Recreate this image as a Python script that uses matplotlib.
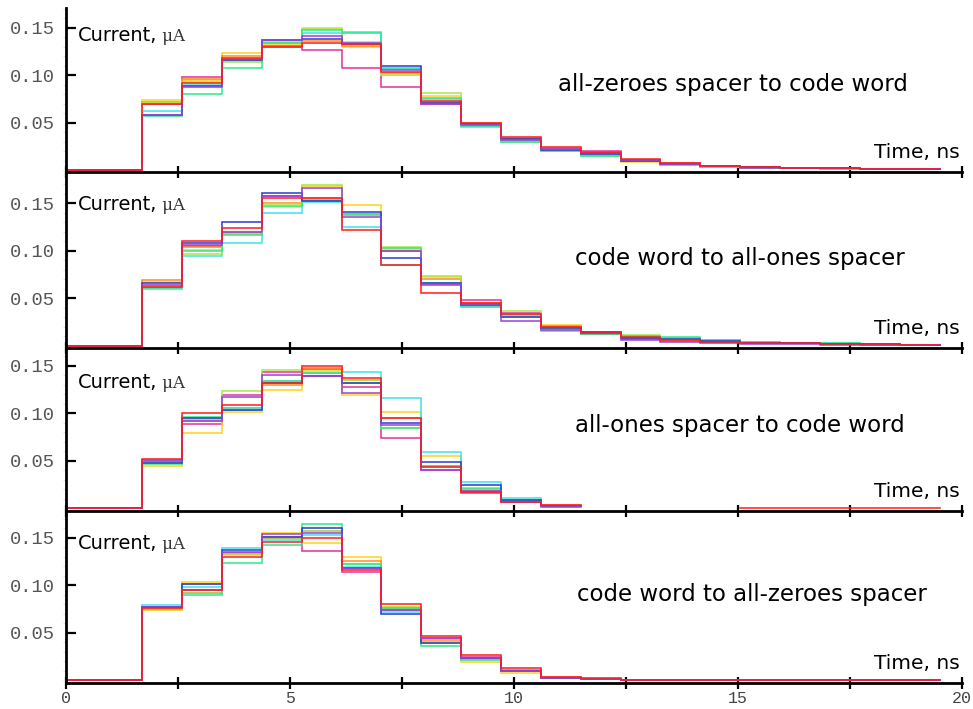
import numpy as np
import matplotlib
matplotlib.use("Agg")
import matplotlib.pyplot as plt
from matplotlib.ticker import MultipleLocator, FixedLocator, FuncFormatter

# ---- data -----------------------------------------------------------------
# time bins (ns): flat zero from 0 to the first edge, then 20 bins of 0.89 ns
t_start = 0.0
bin_edges = [1.70, 2.59, 3.48, 4.37, 5.26, 6.15, 7.04, 7.93, 8.82, 9.71, 10.60,
             11.49, 12.38, 13.27, 14.16, 15.05, 15.94, 16.83, 17.72, 18.61, 19.50]

series_names = ["red", "magenta", "gold", "orange", "cyan", "yellowgreen", "mint", "blue", "purple"]
series_colors = ["#ff1a1a", "#e0309a", "#ffd21a", "#ff8c1a", "#3fe0e8", "#a6e84a", "#2ee88a", "#2a3ad0", "#9a40d8"]

panel_titles = ["all-zeroes spacer to code word",
                "code word to all-ones spacer",
                "all-ones spacer to code word",
                "code word to all-zeroes spacer"]

nan = np.nan

# current (uA) per bin, one list per series, for each transition
zeroes_to_word = {
    "red":         [.0695, .092, .1175, .130, .134, .1326, .1035, .073, .0498, .035, .024, .018, .0113, .0077, .0040, .0030, .0025, .0020, .0015, .0008],
    "magenta":     [.0700, .098, .1160, .131, .126, .1070, .0877, .0695, .047, .033, .022, .0203, .0110, .0070, .0045, .0028, .0022, .0018, .0012, .0006],
    "gold":        [.0737, .095, .1230, .133, .150, .1300, .1000, .078, .048, .032, .021, .017, .0088, .0060, .0035, .0025, .0020, .0016, .0013, .0010],
    "orange":      [.0720, .096, .1200, .129, .136, .1310, .1020, .072, .049, .034, .023, .0175, .0110, .0075, .0040, .0030, .0024, .0019, .0014, .0009],
    "cyan":        [.0624, .090, .1150, .134, .1445, .1455, .1060, .075, .045, .031, .020, .016, .0100, .0060, .0040, .0022, .0020, .0015, .0010, .0006],
    "yellowgreen": [.0710, .093, .1140, .135, .148, .1350, .1000, .0814, .047, .030, .021, .015, .0090, .0055, .0032, .0020, .0018, .0014, .0012, .0010],
    "mint":        [.0570, .080, .1070, .1335, .147, .1440, .1070, .0755, .046, .030, .020, .0147, .0095, .0053, .0030, .0020, .0016, .0012, .0010, .0007],
    "blue":        [.0575, .088, .1155, .137, .1375, .1330, .1090, .071, .048, .033, .021, .017, .0100, .0065, .0042, .0028, .0022, .0016, .0011, .0006],
    "purple":      [.0580, .0875, .1165, .1365, .141, .1340, .1050, .070, .047, .032, .022, .019, .0105, .0068, .0038, .0025, .0021, .0017, .0013, .0008],
}

word_to_ones = {
    "red":         [.0615, .1105, .1235, .155, .156, .1218, .085, .0558, .0453, .0334, .020, .013, .0088, .0060, .0040, .0030, .0025, .0020, .0015, .0010],
    "magenta":     [.0620, .1050, .1190, .158, .1525, .1376, .100, .0640, .0480, .0340, .020, .0123, .0070, .0050, .0035, .0025, .0030, .0018, .0012, .0008],
    "gold":        [.0670, .1010, .1175, .146, .168, .1480, .1015, .0720, .0430, .0330, .0218, .014, .0090, .0065, .0045, .0035, .0028, .0022, .0018, .0012],
    "orange":      [.0690, .1040, .1200, .150, .155, .1390, .100, .0700, .0450, .0320, .021, .0135, .0085, .0065, .0045, .0030, .0026, .0022, .0016, .0010],
    "cyan":        [.0600, .0940, .1084, .140, .1515, .1246, .085, .0663, .0420, .0305, .018, .0147, .0100, .0080, .0060, .0040, .0030, .0025, .0018, .0012],
    "yellowgreen": [.0625, .0970, .1180, .149, .169, .1380, .104, .0734, .0430, .0370, .019, .013, .0113, .0075, .0050, .0035, .0028, .0022, .0016, .0012],
    "mint":        [.0610, .1000, .1165, .147, .153, .1390, .103, .0660, .0410, .0330, .0158, .012, .0100, .0095, .0055, .0040, .0030, .0024, .0018, .0012],
    "blue":        [.0660, .1080, .1305, .1604, .152, .1410, .092, .0665, .0430, .0305, .019, .0147, .0080, .0070, .0045, .0030, .0025, .0020, .0015, .0010],
    "purple":      [.0640, .1060, .1200, .1576, .1655, .1358, .100, .0645, .0440, .0263, .017, .013, .0060, .0042, .0030, .0020, .0016, .0012, .0010, .0006],
}

ones_to_word = {
    "red":         [.052, .100, .1087, .1316, .150, .1375, .0947, .0438, .0175, .0063, .0033, nan, nan, nan, nan, 0, 0, 0, 0, 0],
    "magenta":     [.051, .0884, .119, .143, .1466, .128, .0743, .0403, .0158, .0070, .0020, nan, nan, nan, nan, nan, nan, nan, nan, nan],
    "gold":        [.044, .079, .1017, .1245, .1445, .119, .1017, .0554, .0210, .0080, .0025, nan, nan, nan, nan, nan, nan, nan, nan, nan],
    "orange":      [.049, .092, .106, .130, .148, .135, .095, .045, .018, .0087, .0035, nan, nan, nan, nan, nan, nan, nan, nan, nan],
    "cyan":        [.050, .094, .106, .134, .142, .1438, .1158, .0596, .028, .011, .0020, nan, nan, nan, nan, nan, nan, nan, nan, nan],
    "yellowgreen": [.049, .0947, .1235, .1456, .142, .135, .0849, .0438, .021, .0087, .0020, nan, nan, nan, nan, nan, nan, nan, nan, nan],
    "mint":        [.047, .096, .1035, .134, .142, .1316, .0849, .045, .020, .0087, .0020, nan, nan, nan, nan, nan, nan, nan, nan, nan],
    "blue":        [.048, .095, .1035, .1316, .1396, .1316, .0895, .049, .0245, .0087, .0020, nan, nan, nan, nan, nan, nan, nan, nan, nan],
    "purple":      [.050, .092, .1175, .140, .1396, .121, .088, .0403, .018, .0070, .0017, nan, nan, nan, nan, nan, nan, nan, nan, nan],
}

word_to_zeroes = {
    "red":         [.0755, .0947, .129, .1453, .149, .1158, .080, .0463, .0263, .0130, .0035, .0018, 0, 0, 0, 0, 0, 0, 0, 0],
    "magenta":     [.0760, .0920, .1333, .149, .136, .114, .0737, .0439, .0245, .0110, .0025, .0010, 0, 0, 0, 0, 0, 0, 0, 0],
    "gold":        [.0737, .1035, .1316, .155, .144, .130, .077, .0386, .0193, .0070, .0018, .0010, 0, 0, 0, 0, 0, 0, 0, 0],
    "orange":      [.0750, .1010, .133, .151, .157, .1256, .0755, .042, .022, .0090, .0030, .0010, 0, 0, 0, 0, 0, 0, 0, 0],
    "cyan":        [.0790, .0980, .1386, .1474, .1526, .119, .072, .0403, .0228, .0105, .0020, .0010, 0, 0, 0, 0, 0, 0, 0, 0],
    "yellowgreen": [.0760, .0920, .133, .149, .157, .122, .077, .0403, .0218, .0090, .0020, .0010, 0, 0, 0, 0, 0, 0, 0, 0],
    "mint":        [.0770, .0895, .1228, .142, .164, .122, .0755, .0358, .021, .0105, .0020, .0010, 0, 0, 0, 0, 0, 0, 0, 0],
    "blue":        [.0770, .1010, .1368, .151, .1596, .1175, .0695, .0386, .0228, .0090, .0020, .0010, 0, 0, 0, 0, 0, 0, 0, 0],
    "purple":      [.0770, .0947, .135, .1537, .155, .1175, .0737, .0439, .0228, .0100, .0025, .0010, 0, 0, 0, 0, 0, 0, 0, 0],
}

panels = [zeroes_to_word, word_to_ones, ones_to_word, word_to_zeroes]

x_ticks = [0, 2.5, 5, 7.5, 10, 12.5, 15, 17.5, 20]
y_ticks = [0.05, 0.10, 0.15]

# ---- layout (pixels) ------------------------------------------------------
W, H = 973, 709
PX_PER_UNIT = 950.0           # vertical scale: pixels per uA
X0_PX, X1_PX = 66, 962        # x = 0 and x = 20
# (top, bottom, zero-level) in pixels for each panel
rows = [(8, 172, 170.0), (172, 347.5, 345.7), (348, 510.7, 508.3), (512, 683.3, 680.0)]
current_label_px = [41, 210, 388, 549]      # baselines of the "Current" labels
title_px = [(558, 84), (575, 258), (575, 426), (577, 595)]

mono = "Liberation Mono"

fig = plt.figure(figsize=(W / 100, H / 100), dpi=100)
fig.patch.set_facecolor("white")

edges = np.array([t_start] + bin_edges)
for i, (data, title) in enumerate(zip(panels, panel_titles)):
    top, bot, zero = rows[i]
    ax = fig.add_axes([X0_PX / W, 1 - bot / H, (X1_PX - X0_PX) / W, (bot - top) / H])
    ax.set_facecolor("none")
    ax.set_xlim(0, 20)
    ax.set_ylim(-(bot - zero) / PX_PER_UNIT, (zero - top) / PX_PER_UNIT)

    # step traces; red goes last so it sits on top
    order = [n for n in series_names if n != "red"] + ["red"]
    for name in order:
        vals = np.array([0.0] + list(data[name]), dtype=float)
        yy = np.append(vals, vals[-1])
        ax.step(edges, yy, where="post", color=series_colors[series_names.index(name)],
                lw=1.1, solid_joinstyle="miter", clip_on=True)

    for s in ("top", "right"):
        ax.spines[s].set_visible(False)
    for s in ("left", "bottom"):
        ax.spines[s].set_linewidth(2.0)
        ax.spines[s].set_color("black")
        ax.spines[s].set_zorder(5)

    ax.xaxis.set_major_locator(FixedLocator(x_ticks))
    ax.tick_params(axis="x", which="major", direction="inout", length=9, width=1.6,
                   color="black", pad=1, labelsize=12, labelcolor="#444444")
    if i == 3:
        ax.xaxis.set_major_formatter(FuncFormatter(
            lambda v, p: f"{int(v)}" if abs(v % 5) < 1e-9 else ""))
        for lab in ax.get_xticklabels():
            lab.set_fontfamily(mono)
    else:
        ax.tick_params(axis="x", labelbottom=False)

    ax.yaxis.set_major_locator(FixedLocator(y_ticks))
    ax.yaxis.set_minor_locator(MultipleLocator(0.01))
    ax.yaxis.set_major_formatter(FuncFormatter(lambda v, p: f"{v:.2f}"))
    ax.tick_params(axis="y", which="major", direction="in", length=7, width=1.6,
                   color="black", pad=8, labelsize=13.5, labelcolor="#555555")
    ax.tick_params(axis="y", which="minor", direction="out", length=2, width=0.8,
                   color="#e2e2e2")
    for lab in ax.get_yticklabels():
        lab.set_fontfamily(mono)

    # axis captions
    cy = (zero - current_label_px[i]) / PX_PER_UNIT
    cx = (78 - X0_PX) / (X1_PX - X0_PX) * 20
    t = ax.text(cx, cy, "Current,", fontsize=14, family="DejaVu Sans",
                color="black", va="baseline", ha="left")
    ax.annotate(" \u03bcA", xy=(1, 0), xycoords=t, va="bottom", ha="left",
                fontsize=12, family="DejaVu Serif", color="#333333")

    ax.annotate("Time, ns", xy=(1, 0), xycoords="axes fraction", xytext=(-1.5, 10),
                textcoords="offset points", ha="right", va="baseline",
                fontsize=14.5, family="DejaVu Sans", color="black")

    tx = (title_px[i][0] - X0_PX) / (X1_PX - X0_PX) * 20
    ty = (zero - title_px[i][1]) / PX_PER_UNIT
    ax.text(tx, ty, title, fontsize=16.5, family="DejaVu Sans", color="black",
            ha="left", va="center")

fig.savefig("out.png", dpi=100, facecolor="white")
